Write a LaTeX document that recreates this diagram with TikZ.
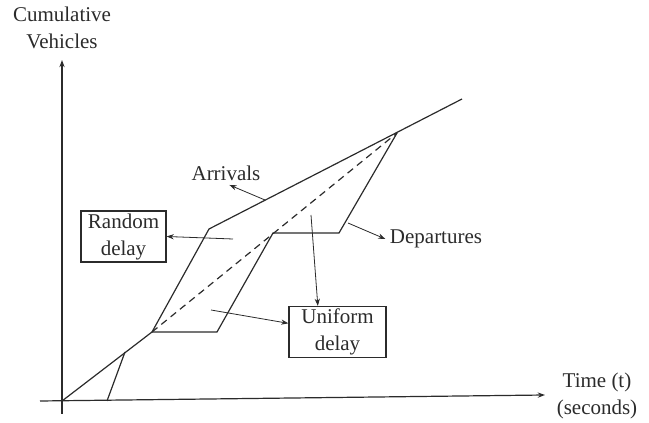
\documentclass[tikz,border=0pt]{standalone}
\usepackage{fontspec}
\setmainfont{Liberation Serif}
\usetikzlibrary{arrows.meta}
\definecolor{QDgray}{HTML}{2B2B2B}

\begin{document}
\begin{tikzpicture}[x=0.5pt,y=0.5pt,line width=0.6pt,color=QDgray,
  lbl/.style={font=\fontsize{10.5}{13.5}\selectfont,align=center,inner sep=2pt},
  dbox/.style={lbl,draw,line width=0.6pt,minimum height=25.5pt,inner sep=1pt},
  pt/.style={-{Stealth[length=3.6pt,width=2.6pt]},line width=0.4pt}]
\useasboundingbox (0,0) rectangle (649,423);
% axes
\coordinate (ybot) at (62,9);
\coordinate (ytop) at (62,363);
\coordinate (xleft) at (40,22);
\coordinate (xright) at (545,28);
\draw[pt,line width=0.6pt] (ybot)--(ytop);
\draw[pt,line width=0.6pt] (xleft)--(xright);
\node[lbl] (ylab) at (62,395) {Cumulative\\Vehicles};
\node[lbl] (xlab) at (597,27) {Time (t)\\(seconds)};
% arrival and departure curves
\coordinate (O) at (62,22);
\coordinate (D0) at (107,22);
\coordinate (A1) at (125,71);
\coordinate (A2) at (152,91);
\coordinate (A3) at (209,194);
\coordinate (A4) at (462,324);
\coordinate (D3) at (217,91);
\coordinate (D4) at (273,190);
\coordinate (D5) at (339,190);
\coordinate (P) at (397,290);
\draw (O)--(A2)--(A3)--(A4);
\draw (D0)--(A1);
\draw (A2)--(D3)--(D4)--(D5)--(P);
\draw[dash pattern=on 3.5pt off 2.5pt] (A2)--(P);
% labels
\node[lbl] (arrivals) at (226,250) {Arrivals};
\node[lbl] (departures) at (436,184) {Departures};
\node[dbox,minimum width=42.5pt] (random) at (123.5,186.5) {Random\\delay};
\node[dbox,minimum width=48.5pt] (uniform) at (337.5,91) {Uniform\\delay};
\coordinate (arrfrom) at (265,223);
\coordinate (rndfrom) at (233,184);
\coordinate (unifromA) at (311,208);
\coordinate (unifromB) at (211,113);
\coordinate (depfrom) at (348,200);
\draw[pt] (arrfrom)--(arrivals.-74);
\draw[pt] (rndfrom)--(random.east);
\draw[pt] (unifromA)--(uniform.127);
\draw[pt] (unifromB)--(uniform.170);
\draw[pt] (depfrom)--(departures.west);
\end{tikzpicture}
\end{document}
